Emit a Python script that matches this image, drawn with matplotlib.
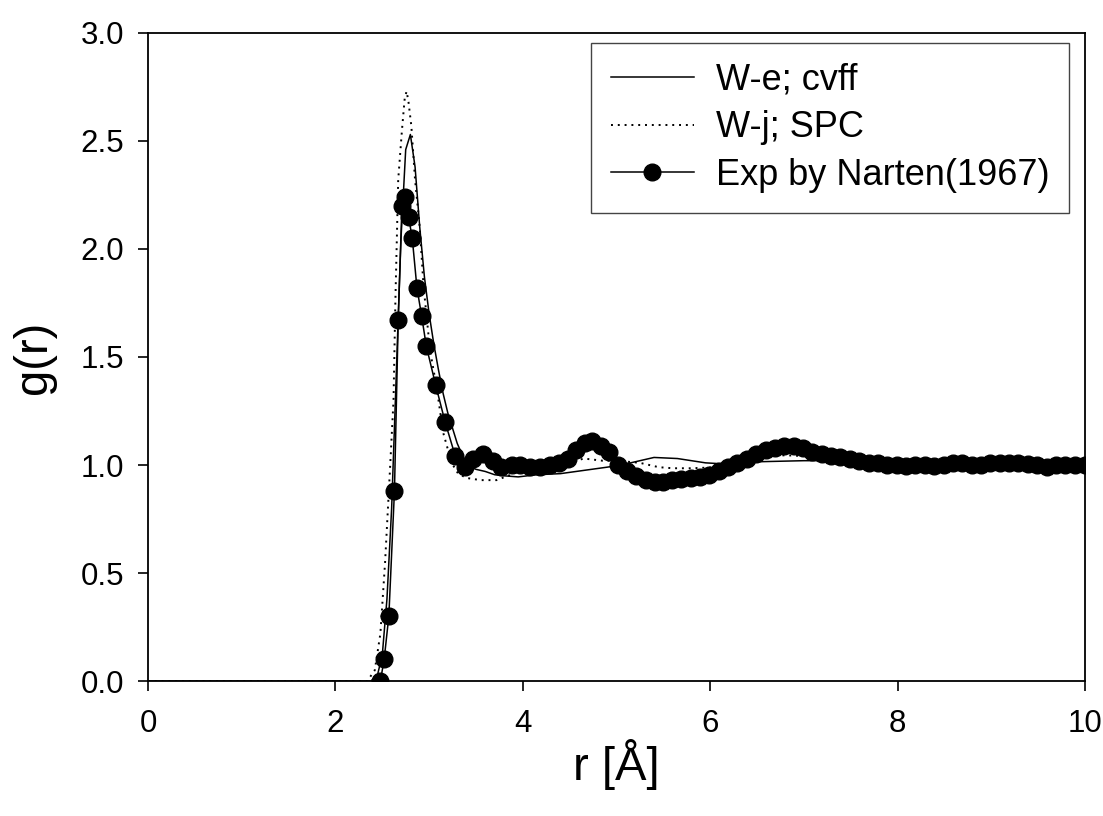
import matplotlib
matplotlib.use('Agg')
import matplotlib.pyplot as plt

plt.rcParams['font.family'] = ['Liberation Sans', 'DejaVu Sans']

# W-e; cvff simulation
we_r = [0.0, 2.0, 2.38, 2.45, 2.50, 2.55, 2.60, 2.64, 2.67, 2.70, 2.75, 2.80, 2.85,
        2.90, 2.95, 3.00, 3.05, 3.10, 3.15, 3.20, 3.25, 3.30, 3.35, 3.40, 3.45,
        3.50, 3.60, 3.70, 3.80, 3.95, 4.15, 4.40, 4.65, 4.90, 5.05, 5.20, 5.40,
        5.65, 5.95, 6.15, 6.50, 7.00, 7.30, 7.60, 8.00, 8.50, 9.00, 9.50, 10.0]
we_g = [0.0, 0.0, 0.0, 0.03, 0.12, 0.38, 0.80, 1.30, 1.68, 2.05, 2.46, 2.53, 2.38,
        2.10, 1.87, 1.70, 1.56, 1.44, 1.33, 1.24, 1.17, 1.10, 1.05, 1.01, 0.99,
        0.98, 0.97, 0.955, 0.95, 0.945, 0.955, 0.96, 0.975, 0.99, 1.00, 1.015, 1.035,
        1.03, 1.01, 1.005, 1.015, 1.02, 1.02, 1.015, 1.01, 1.005, 1.0, 1.0, 1.0]

# W-j; SPC simulation
wj_r = [0.0, 2.0, 2.34, 2.42, 2.48, 2.53, 2.58, 2.62, 2.64, 2.67, 2.71, 2.74, 2.76,
        2.78, 2.81, 2.85, 2.90, 2.94, 3.01, 3.08, 3.15, 3.24, 3.31, 3.40, 3.55,
        3.72, 3.90, 4.10, 4.30, 4.50, 4.65, 4.85, 5.00, 5.25, 5.45, 5.60, 5.80,
        6.10, 6.35, 6.55, 6.80, 7.10, 7.40, 7.80, 8.30, 9.00, 9.50, 10.0]
wj_g = [0.0, 0.0, 0.0, 0.05, 0.22, 0.55, 0.96, 1.30, 1.76, 2.32, 2.55, 2.70, 2.73,
        2.68, 2.57, 2.32, 2.10, 1.83, 1.53, 1.36, 1.15, 1.01, 0.96, 0.94, 0.93,
        0.93, 0.96, 0.99, 1.00, 1.01, 1.03, 1.02, 1.02, 1.01, 0.99, 0.985, 0.985,
        0.99, 1.01, 1.04, 1.045, 1.04, 1.03, 1.01, 1.0, 1.0, 1.0, 1.0]

# Experiment, Narten (1967)
exp_r = [2.48, 2.52, 2.57, 2.63, 2.67, 2.71, 2.74, 2.78, 2.82, 2.87, 2.92, 2.97,
         3.07, 3.17, 3.28, 3.38, 3.47, 3.57, 3.68, 3.77, 3.88, 3.97, 4.08, 4.18,
         4.29, 4.39, 4.48, 4.57, 4.66, 4.74, 4.83, 4.92, 5.02, 5.11, 5.21, 5.31,
         5.41, 5.50, 5.59, 5.69, 5.79, 5.89, 5.99, 6.09, 6.19, 6.29, 6.39, 6.49,
         6.59, 6.69, 6.79, 6.89, 6.99, 7.09, 7.19, 7.29, 7.39, 7.49, 7.59, 7.69,
         7.79, 7.89, 7.99, 8.09, 8.19, 8.29, 8.39, 8.49, 8.59, 8.69, 8.79, 8.89,
         8.99, 9.09, 9.19, 9.29, 9.39, 9.49, 9.59, 9.69, 9.79, 9.89, 10.0]
exp_g = [0.00, 0.10, 0.30, 0.88, 1.67, 2.20, 2.24, 2.15, 2.05, 1.82, 1.69, 1.55,
         1.37, 1.20, 1.04, 0.99, 1.03, 1.05, 1.02, 0.99, 1.00, 1.00, 0.99, 0.99,
         1.00, 1.01, 1.03, 1.07, 1.10, 1.11, 1.09, 1.06, 1.00, 0.97, 0.95, 0.93,
         0.92, 0.92, 0.93, 0.935, 0.94, 0.945, 0.955, 0.97, 0.99, 1.01, 1.03, 1.05,
         1.07, 1.08, 1.09, 1.09, 1.08, 1.06, 1.05, 1.04, 1.035, 1.03, 1.02, 1.01,
         1.01, 1.00, 1.00, 0.995, 1.00, 1.00, 0.995, 1.00, 1.01, 1.01, 1.00, 1.00,
         1.01, 1.01, 1.01, 1.01, 1.005, 1.00, 0.99, 1.00, 1.00, 1.00, 1.00]

fig = plt.figure(figsize=(11.03, 8.16), dpi=100)
ax = fig.add_axes([0.1342, 0.1654, 0.8495, 0.7942])

ax.plot(we_r, we_g, color='black', lw=1.1, label='W-e; cvff')
ax.plot(wj_r, wj_g, color='black', lw=1.4, ls=(0, (1, 2.5)), label='W-j; SPC')
ax.plot(exp_r, exp_g, color='black', lw=1.1, marker='o', markersize=12,
        label='Exp by Narten(1967)')

ax.set_xlim(0, 10)
ax.set_ylim(0, 3.0)
ax.set_xticks([0, 2, 4, 6, 8, 10])
ax.set_yticks([0.0, 0.5, 1.0, 1.5, 2.0, 2.5, 3.0])
ax.set_yticklabels(['0.0', '0.5', '1.0', '1.5', '2.0', '2.5', '3.0'])
ax.tick_params(direction='out', length=7, width=1.2, labelsize=22.5,
               top=False, right=False)
ax.tick_params(axis='y', pad=10)
ax.tick_params(axis='x', pad=13)
for s in ax.spines.values():
    s.set_linewidth(1.3)

ax.set_xlabel('r [Å]', fontsize=34, labelpad=0)
ax.set_ylabel('g(r)', fontsize=34, labelpad=18)

leg = ax.legend(loc='upper right', bbox_to_anchor=(0.983, 0.985), fontsize=26,
                handlelength=2.3, handletextpad=0.6, labelspacing=0.35,
                borderpad=0.55, borderaxespad=0, fancybox=False, framealpha=1)
leg.get_frame().set_edgecolor('#444444')
leg.get_frame().set_linewidth(1.0)

fig.savefig('out.png', dpi=100)
